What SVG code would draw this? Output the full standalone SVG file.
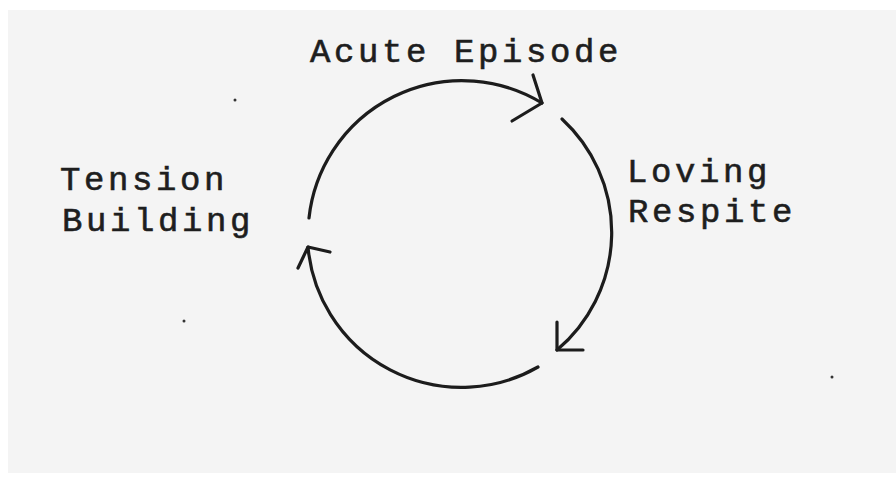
<svg xmlns="http://www.w3.org/2000/svg" width="896" height="481" viewBox="0 0 896 481">
  <style>
    .lbl { font-family: "Liberation Mono", "Courier New", monospace; font-size: 34px; letter-spacing: 3.6px; fill: #1e1e1e; stroke: #1e1e1e; stroke-width: 0.6; }
    .arc { fill: none; stroke: #1c1c1c; stroke-width: 3.2; stroke-linecap: round; stroke-linejoin: round; }
    .speck { fill: #333; }
  </style>
  <rect x="0" y="0" width="896" height="481" fill="#ffffff"/>
  <rect x="8" y="10" width="888" height="463" fill="#f4f4f4"/>
  <g id="acute-episode">
    <text class="lbl" x="310" y="62">Acute Episode</text>
  </g>
  <g id="loving-respite">
    <text class="lbl" x="627" y="182">Loving</text>
    <text class="lbl" x="628" y="222">Respite</text>
  </g>
  <g id="tension-building">
    <text class="lbl" x="60" y="190">Tension</text>
    <text class="lbl" x="62" y="231">Building</text>
  </g>
  <g id="connectors">
    <path class="arc" d="M309 218 A 154 154 0 0 1 542 103"/>
    <path class="arc" d="M533 75 L542 103 L512 121"/>
    <path class="arc" d="M562 119 A 154 154 0 0 1 557 350"/>
    <path class="arc" d="M557 322 L557 350 L583 350"/>
    <path class="arc" d="M538 367 A 154 154 0 0 1 308 247"/>
    <path class="arc" d="M330 252 L308 247 L298 268"/>
  </g>
  <circle class="speck" cx="235" cy="100" r="1.5"/>
  <circle class="speck" cx="184" cy="321" r="1.5"/>
  <circle class="speck" cx="832" cy="377" r="1.5"/>
</svg>
